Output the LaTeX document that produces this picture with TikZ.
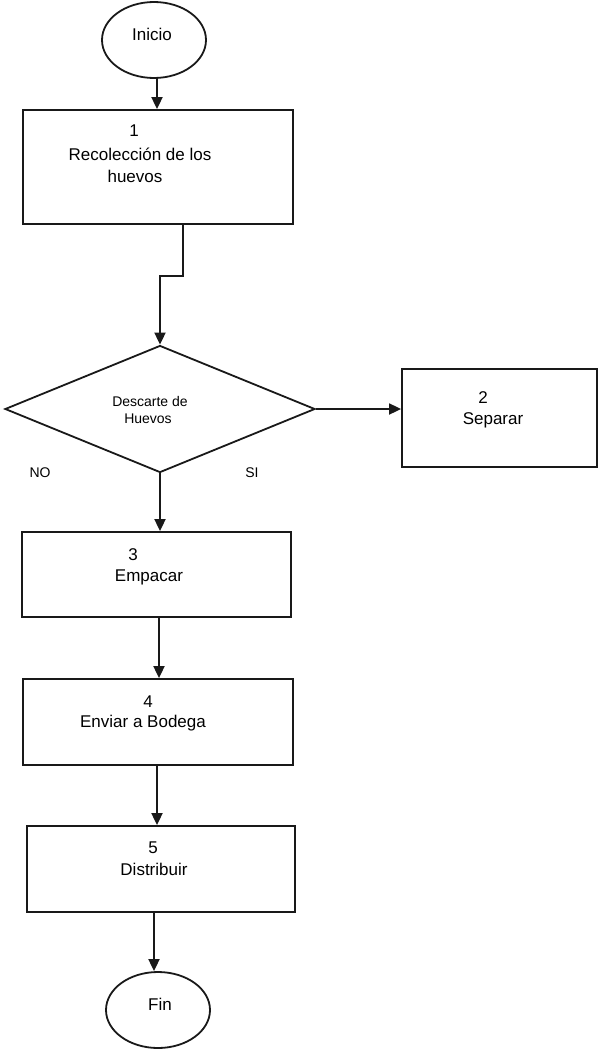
\documentclass[tikz,border=0pt]{standalone}
\usepackage{fontspec}
\setmainfont{Liberation Sans}
\usetikzlibrary{arrows.meta,shapes.geometric,calc}
\begin{document}
\begin{tikzpicture}[x=1pt,y=-1pt,
  shapeline/.style={draw=black!90, line width=1.8pt, inner sep=0pt},
  box/.style={shapeline, rectangle},
  oval/.style={shapeline, ellipse},
  dec/.style={shapeline, diamond},
  txt/.style={font=\fontsize{17}{20}\selectfont, inner sep=0pt, text=black},
  small/.style={font=\fontsize{14}{18}\selectfont, inner sep=0pt, text=black},
  arr/.style={draw=black!90, line width=1.8pt, -{Triangle[length=12pt,width=11pt]}},
]
\path[fill=white] (0,0) rectangle (600,1049);
\useasboundingbox (0,0) rectangle (600,1049);

% shapes
\node[oval, minimum width=104pt, minimum height=76pt] (inicio) at (154,40) {};
\node[box, minimum width=270pt, minimum height=114pt] (r1) at (158,167) {};
\node[dec, minimum width=310pt, minimum height=127pt] (d) at (160,409) {};
\node[box, minimum width=195pt, minimum height=98pt] (r2) at (499.5,418) {};
\node[box, minimum width=269pt, minimum height=85pt] (r3) at (156.5,574.5) {};
\node[box, minimum width=270pt, minimum height=86pt] (r4) at (158,722) {};
\node[box, minimum width=268pt, minimum height=86pt] (r5) at (161,869) {};
\node[oval, minimum width=104pt, minimum height=76pt] (fin) at (158,1010) {};

% texts
\node[txt] (tinicio) at (152,34) {Inicio};
\node[txt] (t1a) at (134,131) {1};
\node[txt] (t1b) at (140,154) {Recolección de los};
\node[txt] (t1c) at (135,176) {huevos};
\node[small] (tda) at (150,401) {Descarte de};
\node[small] (tdb) at (148,419) {Huevos};
\node[txt] (t2a) at (483,398) {2};
\node[txt] (t2b) at (493,420) {Separar};
\node[small] (tno) at (40,473) {NO};
\node[small] (tsi) at (252,473) {SI};
\node[txt] (t3a) at (133,555) {3};
\node[txt] (t3b) at (149,577) {Empacar};
\node[txt] (t4a) at (148,702) {4};
\node[txt] (t4b) at (143,723) {Enviar a Bodega};
\node[txt] (t5a) at (153,848) {5};
\node[txt] (t5b) at (154,869) {Distribuir};
\node[txt] (tfin) at (160,1004) {Fin};

% connectors
\draw[arr] ($(inicio.south)+(3,0)$) coordinate (p0) -- (p0 |- r1.north);
\draw[arr] ($(r1.south)+(25,0)$) -- ++(0,51) -| (d.north);
\draw[arr] (d.east) -- (d.east -| r2.west);
\draw[arr] (d.south) -- (d.south |- r3.north);
\draw[arr] ($(r3.south)+(2.5,0)$) coordinate (p3) -- (p3 |- r4.north);
\draw[arr] ($(r4.south)+(-1,0)$) coordinate (p4) -- (p4 |- r5.north);
\draw[arr] ($(r5.south)+(-7,0)$) coordinate (p5) -- (p5 |- fin.north);
\end{tikzpicture}
\end{document}
